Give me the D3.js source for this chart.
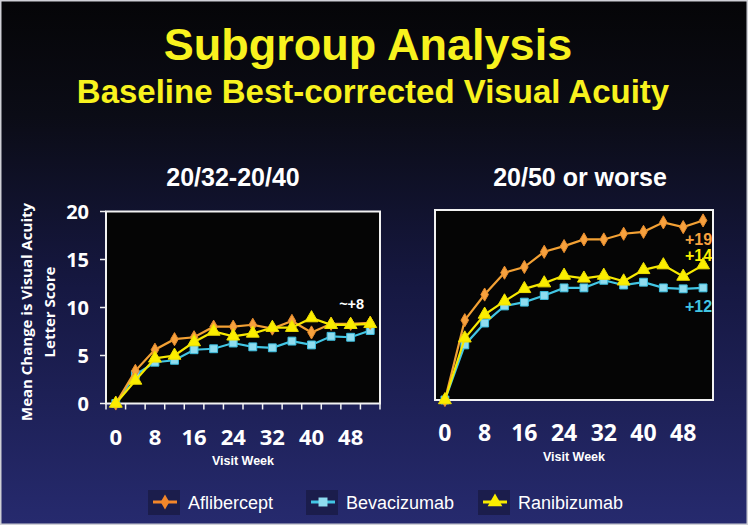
<!DOCTYPE html>
<html>
<head>
<meta charset="utf-8">
<script src="https://cdn.jsdelivr.net/npm/d3@7"></script>
<style>
html,body{margin:0;padding:0;background:#000;}
svg{display:block;}
</style>
</head>
<body>
<svg id="chart" width="748" height="525"></svg>
<script>
// ---- data ----
const weeks = [0,4,8,12,16,20,24,28,32,36,40,44,48,52];
const xTickLabels = [0,8,16,24,32,40,48];
const yTickLabels = [0,5,10,15,20];
const seriesNames = ["Aflibercept","Bevacizumab","Ranibizumab"];

const leftAflibercept = [0,3.4,5.6,6.7,6.9,8.0,8.0,8.2,7.8,8.6,7.4,8.3,8.3,8.4];
const leftBevacizumab = [0,3.0,4.3,4.5,5.6,5.7,6.3,5.9,5.8,6.5,6.1,7.0,6.9,7.6];
const leftRanibizumab = [0,2.4,4.7,5.0,6.4,7.5,7.0,7.3,7.9,7.9,8.9,8.2,8.2,8.3];

const rightAflibercept = [0,8.4,11.1,13.4,14.0,15.6,16.2,16.9,16.9,17.5,17.7,18.7,18.2,18.9];
const rightBevacizumab = [0,5.8,8.1,9.9,10.3,11.0,11.8,11.8,12.6,12.1,12.4,11.8,11.7,11.8];
const rightRanibizumab = [0,6.5,9.0,10.4,11.7,12.3,13.1,12.8,13.1,12.5,13.7,14.2,13.0,14.2];

const leftAnnotation = "~+8";
const rightAnnotations = ["+19","+12","+14"]; // Aflibercept, Bevacizumab, Ranibizumab

// ---- styles ----
const styles = {
  Aflibercept: {line:"#f3a134", fill:"#f7a13e", stroke:"#e58a2c", symbol:d3.symbolDiamond, size:50},
  Bevacizumab: {line:"#42c6e4", fill:"#8fdcef", stroke:"#3cbfe0", symbol:d3.symbolSquare, size:62},
  Ranibizumab: {line:"#f7e900", fill:"#fbee00", stroke:"#f0df00", symbol:d3.symbolTriangle, size:72}
};

const svg = d3.select("#chart");
const defs = svg.append("defs");
const grad = defs.append("linearGradient").attr("id","bg").attr("x1",0).attr("y1",0).attr("x2",0).attr("y2",1);
grad.append("stop").attr("offset","0%").attr("stop-color","#050507");
grad.append("stop").attr("offset","22%").attr("stop-color","#0b0c16");
grad.append("stop").attr("offset","55%").attr("stop-color","#161842");
grad.append("stop").attr("offset","100%").attr("stop-color","#262a6e");

svg.append("rect").attr("x",0).attr("y",0).attr("width",748).attr("height",525).attr("fill","url(#bg)");
svg.append("rect").attr("x",0.75).attr("y",0.75).attr("width",746.5).attr("height",523.5)
  .attr("fill","none").attr("stroke","#cfd0d6").attr("stroke-width",1.5);

// titles
svg.append("text").attr("x",368).attr("y",60).attr("text-anchor","middle")
  .attr("font-family","Liberation Sans, Arial, sans-serif").attr("font-weight","bold")
  .attr("font-size",45).attr("fill","#f8f21e").text("Subgroup Analysis");
svg.append("text").attr("x",373).attr("y",103).attr("text-anchor","middle")
  .attr("font-family","Liberation Sans, Arial, sans-serif").attr("font-weight","bold")
  .attr("font-size",33).attr("fill","#f8f21e").text("Baseline Best-corrected Visual Acuity");

function panel(cfg){
  const x = d3.scaleLinear().domain([-2,54]).range([cfg.left,cfg.right]);
  const y = d3.scaleLinear().domain([0,20]).range([cfg.bottom,cfg.top]);
  const g = svg.append("g");

  g.append("text").attr("x",cfg.titleX).attr("y",186).attr("text-anchor","middle")
    .attr("font-family","Liberation Sans, Arial, sans-serif").attr("font-weight","bold")
    .attr("font-size",25).attr("fill","#ffffff").text(cfg.title);

  g.append("rect").attr("x",cfg.left).attr("y",cfg.top).attr("width",cfg.right-cfg.left)
    .attr("height",cfg.bottom-cfg.top).attr("fill","#050505")
    .attr("stroke","#f2f2f2").attr("stroke-width",2);

  if (cfg.ticks){
    const xt = d3.range(-2,55,4);
    g.selectAll(".xt").data(xt).join("line")
      .attr("x1",d=>x(d)).attr("x2",d=>x(d)).attr("y1",cfg.bottom).attr("y2",cfg.bottom+6)
      .attr("stroke","#f2f2f2").attr("stroke-width",1.5);
    g.selectAll(".yt").data(yTickLabels).join("line")
      .attr("x1",cfg.left-6).attr("x2",cfg.left).attr("y1",d=>y(d)).attr("y2",d=>y(d))
      .attr("stroke","#f2f2f2").attr("stroke-width",1.5);
    g.selectAll(".yl").data(yTickLabels).join("text")
      .attr("x",cfg.left-17).attr("y",d=>y(d)+7).attr("text-anchor","end")
      .attr("font-family","Open Sans, sans-serif").attr("font-weight","bold")
      .attr("font-size",20).attr("fill","#ffffff").text(d=>d);
  }

  g.selectAll(".xl").data(xTickLabels).join("text")
    .attr("x",d=>x(d)).attr("y",cfg.xLabelY).attr("text-anchor","middle")
    .attr("font-family","Open Sans, sans-serif").attr("font-weight","bold")
    .attr("font-size",cfg.xLabelSize).attr("fill","#ffffff").text(d=>d);

  g.append("text").attr("x",(cfg.left+cfg.right)/2).attr("y",cfg.xLabelY+20).attr("text-anchor","middle")
    .attr("font-family","Liberation Sans, Arial, sans-serif").attr("font-weight","bold")
    .attr("font-size",12.5).attr("fill","#ffffff").text("Visit Week");

  const line = d3.line().x((d,i)=>x(weeks[i])).y(d=>y(d));
  const order = ["Bevacizumab","Aflibercept","Ranibizumab"];
  order.forEach(name=>{
    const vals = cfg.series[name];
    const st = styles[name];
    g.append("path").datum(vals).attr("d",line).attr("fill","none")
      .attr("stroke",st.line).attr("stroke-width",2.2);
    g.selectAll(".m"+name).data(vals).join("path")
      .attr("transform",(d,i)=>`translate(${x(weeks[i])},${y(d)})`)
      .attr("d",d3.symbol().type(st.symbol).size(st.size))
      .attr("fill",st.fill).attr("stroke",st.stroke).attr("stroke-width",1);
  });
  return {x,y,g};
}

const L = panel({left:106,right:380,top:211.5,bottom:403.5,title:"20/32-20/40",titleX:233,ticks:true,
  xLabelY:445,xLabelSize:22,
  series:{Aflibercept:leftAflibercept,Bevacizumab:leftBevacizumab,Ranibizumab:leftRanibizumab}});
const R = panel({left:435,right:713,top:210,bottom:400,title:"20/50 or worse",titleX:580,ticks:false,
  xLabelY:441,xLabelSize:23,
  series:{Aflibercept:rightAflibercept,Bevacizumab:rightBevacizumab,Ranibizumab:rightRanibizumab}});

// annotations
L.g.append("text").attr("x",L.x(48)+1).attr("y",L.y(10)+1).attr("text-anchor","middle")
  .attr("font-family","Liberation Sans, Arial, sans-serif").attr("font-weight","bold")
  .attr("font-size",14.5).attr("fill","#ffffff").text(leftAnnotation);
const annColors = [styles.Aflibercept.fill, styles.Bevacizumab.line, styles.Ranibizumab.fill];
const annValues = [17.0, 9.9, 15.3];
R.g.selectAll(".ann").data(rightAnnotations).join("text")
  .attr("x",R.x(52)+9).attr("y",(d,i)=>R.y(annValues[i])+6).attr("text-anchor","end")
  .attr("font-family","Liberation Sans, Arial, sans-serif").attr("font-weight","bold")
  .attr("font-size",16).attr("fill",(d,i)=>annColors[i]).text(d=>d);

// y axis title
const yt = svg.append("g").attr("transform","translate(0,312) rotate(-90)");
yt.append("text").attr("x",0).attr("y",32).attr("text-anchor","middle")
  .attr("font-family","Open Sans, sans-serif").attr("font-weight","bold")
  .attr("font-size",15).attr("fill","#ffffff").text("Mean Change is Visual Acuity");
yt.append("text").attr("x",0).attr("y",55).attr("text-anchor","middle")
  .attr("font-family","Open Sans, sans-serif").attr("font-weight","bold")
  .attr("font-size",15).attr("fill","#ffffff").text("Letter Score");

// legend
const legendX = [148, 306, 478];
const lg = svg.append("g");
seriesNames.forEach((name,i)=>{
  const st = styles[name];
  const gx = legendX[i];
  lg.append("rect").attr("x",gx).attr("y",490).attr("width",32).attr("height",25).attr("fill","#1b1d4c");
  lg.append("line").attr("x1",gx+5).attr("x2",gx+29).attr("y1",502).attr("y2",502)
    .attr("stroke", name==="Aflibercept" ? "#f2862a" : st.line).attr("stroke-width",3);
  lg.append("path").attr("transform",`translate(${gx+17},502)`)
    .attr("d",d3.symbol().type(st.symbol).size(st.size*1.3))
    .attr("fill", name==="Aflibercept" ? "#f2862a" : st.fill).attr("stroke","none");
  lg.append("text").attr("x",gx+40).attr("y",509).attr("font-family","Liberation Sans, Arial, sans-serif")
    .attr("font-size",18).attr("fill","#ffffff").text(name);
});
</script>
</body>
</html>
